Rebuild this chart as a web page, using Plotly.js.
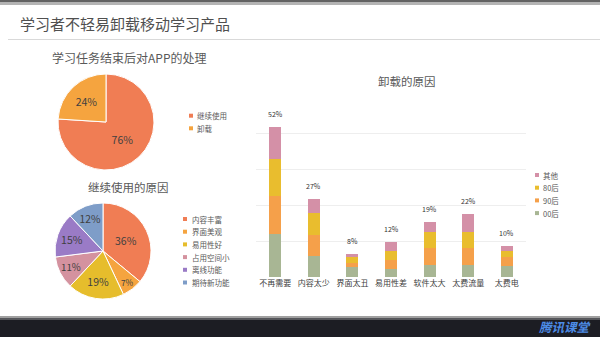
<!DOCTYPE html>
<html>
<head>
<meta charset="utf-8">
<script src="https://cdn.plot.ly/plotly-3.0.1.min.js"></script>
<style>html,body{margin:0;padding:0;background:#fff;}#chart{width:600px;height:337px;}</style>
</head>
<body>
<div id="chart"></div>
<script>
// ---- data ----
const pie1Labels = ['继续使用', '卸载'];
const pie1Values = [76, 24];
const pie1Colors = ['#F07D54', '#F5A43F'];

const pie2Labels = ['内容丰富', '界面美观', '易用性好', '占用空间小', '离线功能', '期待新功能'];
const pie2Values = [36, 7, 19, 11, 15, 12];
const pie2Colors = ['#F07D54', '#F5A43F', '#E6BD2C', '#D4929F', '#9A7BC6', '#7E9DC8'];

const barCategories = ['不再需要', '内容太少', '界面太丑', '易用性差', '软件太大', '太费流量', '太费电'];
const s00 = [15, 7.3, 3.4, 2.7, 4.0, 4.0, 3.8];
const s90 = [13, 7.3, 1.6, 3.2, 6.2, 5.9, 3.1];
const s80 = [13, 7.5, 1.8, 3.1, 5.4, 5.8, 2.1];
const sOther = [11, 4.9, 1.2, 3.0, 3.4, 6.3, 1.7];
const barTotals = [52, 27, 8, 12, 19, 22, 10];
const seriesNames = ['00后', '90后', '80后', '其他'];
const seriesColors = ['#A8B694', '#F5A04A', '#E9BD2E', '#D490A7'];

// ---- helpers (pixel -> paper) ----
const W = 600, H = 337;
const X = px => px / W;
const Y = py => 1 - py / H;
const FONT = '"Noto Sans CJK SC", "Noto Sans", sans-serif';
const TXT = '#595959';

const traces = [];
traces.push({
  type: 'pie', labels: pie1Labels, values: pie1Values, sort: false,
  direction: 'clockwise', rotation: 0,
  marker: {colors: pie1Colors, line: {color: '#ffffff', width: 1}},
  texttemplate: '%{value}%', textposition: 'inside', insidetextorientation: 'horizontal',
  textfont: {family: FONT, size: 10.5, color: '#404040'},
  domain: {x: [X(58), X(154)], y: [Y(170), Y(74)]},
  showlegend: false, hoverinfo: 'label+percent'
});
traces.push({
  type: 'pie', labels: pie2Labels, values: pie2Values, sort: false,
  direction: 'clockwise', rotation: 0,
  marker: {colors: pie2Colors, line: {color: '#ffffff', width: 1}},
  texttemplate: '%{value}%', textposition: 'inside', insidetextorientation: 'horizontal',
  textfont: {family: FONT, size: 10.5, color: '#404040'},
  domain: {x: [X(55), X(151)], y: [Y(299), Y(203)]},
  showlegend: false, hoverinfo: 'label+percent'
});
const stackSeries = [s00, s90, s80, sOther];
stackSeries.forEach((s, i) => {
  traces.push({
    type: 'bar', x: barCategories, y: s, name: seriesNames[i],
    marker: {color: seriesColors[i]}, showlegend: false,
    xaxis: 'x', yaxis: 'y'
  });
});

const annotations = [];
const shapes = [];

// titles
annotations.push({text: '学习任务结束后对APP的处理', x: X(129), y: Y(58), xref: 'paper', yref: 'paper',
  showarrow: false, xanchor: 'center', yanchor: 'middle', font: {family: FONT, size: 12, color: TXT}});
annotations.push({text: '继续使用的原因', x: X(128), y: Y(187), xref: 'paper', yref: 'paper',
  showarrow: false, xanchor: 'center', yanchor: 'middle', font: {family: FONT, size: 11.5, color: TXT}});
annotations.push({text: '卸载的原因', x: X(407), y: Y(81), xref: 'paper', yref: 'paper',
  showarrow: false, xanchor: 'center', yanchor: 'middle', font: {family: FONT, size: 11.5, color: TXT}});

// custom legends
function legend(labels, colors, mx, tx, y0, step) {
  labels.forEach((lab, i) => {
    const yc = y0 + i * step;
    shapes.push({type: 'rect', xref: 'paper', yref: 'paper', x0: X(mx), x1: X(mx + 4),
      y0: Y(yc + 2), y1: Y(yc - 2), fillcolor: colors[i], line: {width: 0}});
    annotations.push({text: lab, x: X(tx), y: Y(yc), xref: 'paper', yref: 'paper', showarrow: false,
      xanchor: 'left', yanchor: 'middle', font: {family: FONT, size: 7.5, color: TXT}});
  });
}
legend(pie1Labels, pie1Colors, 189, 195, 115.7, 12.6);
legend(pie2Labels, pie2Colors, 183, 189.5, 219, 12.7);
legend(seriesNames.slice().reverse(), seriesColors.slice().reverse(), 535, 541, 175, 12.7);

// bar total labels
barCategories.forEach((c, i) => {
  annotations.push({text: barTotals[i] + '%', x: c, y: stackSeries.reduce((a, s) => a + s[i], 0),
    xref: 'x', yref: 'y', showarrow: false, yanchor: 'middle', yshift: 13,
    font: {family: FONT, size: 7, color: '#333333'}});
});

// logo
annotations.push({text: '<b><i>腾讯课堂</i></b>', x: X(594), y: Y(326), xref: 'paper', yref: 'paper',
  showarrow: false, xanchor: 'right', yanchor: 'middle', font: {family: FONT, size: 12.5, color: '#4C8BE6'}});

// decorative bands
shapes.push({type: 'rect', xref: 'paper', yref: 'paper', x0: 0, x1: 1, y0: Y(2.5), y1: 1, fillcolor: '#626262', line: {width: 0}, layer: 'below'});
shapes.push({type: 'rect', xref: 'paper', yref: 'paper', x0: 0, x1: 1, y0: Y(5), y1: Y(2.5), fillcolor: '#b4b4b4', line: {width: 0}, layer: 'below'});
shapes.push({type: 'line', xref: 'paper', yref: 'paper', x0: X(8), x1: 1, y0: Y(39.5), y1: Y(39.5), line: {color: '#d9d9d9', width: 1}});
shapes.push({type: 'rect', xref: 'paper', yref: 'paper', x0: 0, x1: 1, y0: Y(318), y1: Y(316), fillcolor: '#a0a0a0', line: {width: 0}, layer: 'below'});
shapes.push({type: 'rect', xref: 'paper', yref: 'paper', x0: 0, x1: 1, y0: Y(320), y1: Y(318), fillcolor: '#55565a', line: {width: 0}, layer: 'below'});
shapes.push({type: 'rect', xref: 'paper', yref: 'paper', x0: 0, x1: 1, y0: 0, y1: Y(320), fillcolor: '#1c1d23', line: {width: 0}, layer: 'below'});

const layout = {
  width: W, height: H,
  margin: {l: 0, r: 0, t: 0, b: 0},
  paper_bgcolor: '#ffffff', plot_bgcolor: 'rgba(0,0,0,0)',
  title: {text: '学习者不轻易卸载移动学习产品', x: X(20), xanchor: 'left', xref: 'paper',
    y: Y(24.5), yanchor: 'middle', yref: 'paper', font: {family: FONT, size: 15, color: '#505050'}},
  barmode: 'stack', bargap: 0.69,
  showlegend: false,
  xaxis: {domain: [X(256), X(526)], showgrid: false, zeroline: false, showline: false, ticks: '',
    tickfont: {family: FONT, size: 8, color: '#404040'}, fixedrange: true},
  yaxis: {domain: [Y(277), Y(97)], range: [0, 62.5], dtick: 12.5, tick0: 0, showticklabels: false,
    showgrid: true, gridcolor: '#eeeeee', gridwidth: 1, zeroline: false, showline: false, ticks: ''},
  annotations: annotations, shapes: shapes
};

Plotly.newPlot('chart', traces, layout, {displayModeBar: false, staticPlot: true});
</script>
</body>
</html>
